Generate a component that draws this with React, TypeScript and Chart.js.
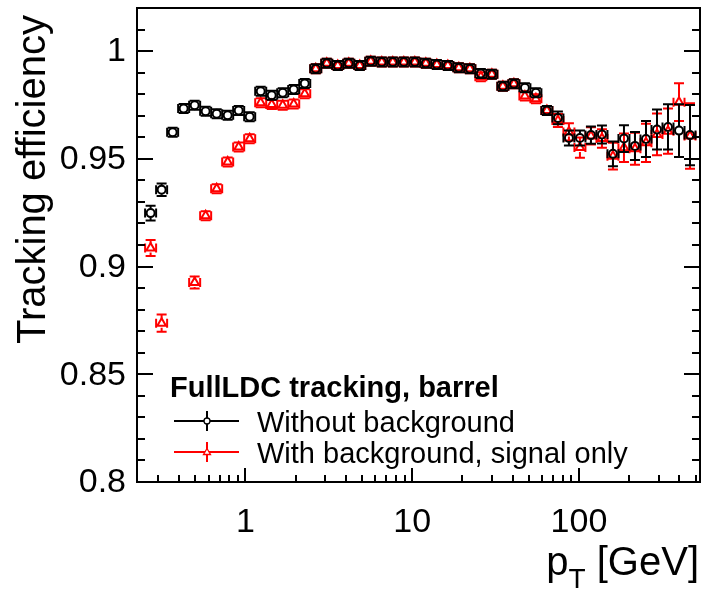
import React, { useEffect, useRef } from "react";
import { Chart, registerables } from "chart.js";

Chart.register(...registerables);

// pT bin centres [GeV] (50 log bins, 0.25 - 500 GeV)
const PT_BINS = [
  0.2697, 0.3140, 0.3656, 0.4256, 0.4955, 0.5768, 0.6716, 0.7818, 0.9102, 1.0596,
  1.2336, 1.4361, 1.6719, 1.9464, 2.2660, 2.6380, 3.0712, 3.5754, 4.1624, 4.8458,
  5.6415, 6.5677, 7.6460, 8.9014, 10.363, 12.064, 14.045, 16.351, 19.035, 22.160,
  25.799, 30.035, 34.966, 40.707, 47.390, 55.171, 64.229, 74.775, 87.052, 101.34,
  117.98, 137.35, 159.90, 186.16, 216.72, 252.30, 293.73, 341.95, 398.09, 463.45,
];
const BIN_RATIO = 1.16418; // ratio between successive bin edges

// Without background
const EFF_NO_BKG = [
  0.9248, 0.9357, 0.9623, 0.9733, 0.9749, 0.9721, 0.9709, 0.9702, 0.9724, 0.9695,
  0.9814, 0.9795, 0.9807, 0.9822, 0.9850, 0.9918, 0.9943, 0.9933, 0.9943, 0.9933,
  0.9953, 0.9949, 0.9949, 0.9949, 0.9949, 0.9943, 0.9938, 0.9933, 0.9923, 0.9918,
  0.9896, 0.9892, 0.9837, 0.9848, 0.9830, 0.9807, 0.9724, 0.9690, 0.9597, 0.9597,
  0.9610, 0.9613, 0.9523, 0.9594, 0.9560, 0.9592, 0.9636, 0.9648, 0.9631, 0.9610,
];
const ERR_NO_BKG = [
  0.0034, 0.0029, 0.0015, 0.0012, 0.0012, 0.0011, 0.0011, 0.0011, 0.0011, 0.0011,
  0.0011, 0.0010, 0.0010, 0.0010, 0.0010, 0.0008, 0.0008, 0.0008, 0.0008, 0.0008,
  0.0008, 0.0008, 0.0008, 0.0008, 0.0008, 0.0008, 0.0008, 0.0008, 0.0008, 0.0008,
  0.0009, 0.0010, 0.0012, 0.0013, 0.0015, 0.0015, 0.0020, 0.0030, 0.0035, 0.0035,
  0.0040, 0.0042, 0.0057, 0.0062, 0.0065, 0.0083, 0.0093, 0.0105, 0.0122, 0.0140,
];

// With background, signal only
const EFF_BKG = [
  0.9086, 0.8737, null, null, 0.8926, 0.9236, 0.9361, 0.9485, 0.9555, 0.9593,
  0.9760, 0.9752, 0.9749, 0.9755, 0.9802, 0.9918, 0.9943, 0.9933, 0.9943, 0.9933,
  0.9953, 0.9949, 0.9949, 0.9949, 0.9949, 0.9943, 0.9938, 0.9933, 0.9923, 0.9918,
  0.9881, 0.9892, 0.9837, 0.9848, 0.9791, 0.9779, 0.9724, 0.9678, 0.9625, 0.9552,
  0.9606, 0.9594, 0.9512, 0.9551, 0.9547, 0.9574, 0.9613, 0.9628, 0.9763, 0.9606,
];
const ERR_BKG = [
  0.0037, 0.0040, 0, 0, 0.0028, 0.0020, 0.0018, 0.0015, 0.0014, 0.0013,
  0.0012, 0.0012, 0.0012, 0.0012, 0.0012, 0.0009, 0.0009, 0.0009, 0.0009, 0.0009,
  0.0009, 0.0009, 0.0009, 0.0009, 0.0009, 0.0009, 0.0009, 0.0009, 0.0009, 0.0009,
  0.0012, 0.0012, 0.0012, 0.0012, 0.0016, 0.0017, 0.0020, 0.0030, 0.0040, 0.0047,
  0.0040, 0.0043, 0.0062, 0.0066, 0.0074, 0.0089, 0.0097, 0.0105, 0.0088, 0.0152,
];

const Y_TICKS = [0.8, 0.85, 0.9, 0.95, 1];
const Y_TICK_LABELS = ["0.8", "0.85", "0.9", "0.95", "1"];
const X_TICKS = [1, 10, 100];
const X_TICK_LABELS = ["1", "10", "100"];

const LEGEND_HEADER = "FullLDC tracking, barrel";
const LEGEND_LABELS = ["Without background", "With background, signal only"];
const Y_TITLE = "Tracking efficiency";

const X_MIN = 0.2235;
const X_MAX = 532;
const Y_MIN = 0.8;
const Y_MAX = 1.02;

const FONT = '"Liberation Sans", Arial, Helvetica, sans-serif';
const COLORS = ["#000000", "#ff0000"];

const errorBarPlugin = {
  id: "rootErrorBars",
  beforeDatasetDraw(chart: any, args: any) {
    const ds = chart.data.datasets[args.index];
    const xs = chart.scales.x;
    const ys = chart.scales.y;
    const ctx = chart.ctx;
    const r = 4.5;
    const cap = 5;
    const half = Math.sqrt(BIN_RATIO);
    ctx.save();
    ctx.strokeStyle = ds.borderColor;
    ctx.lineWidth = 2;
    ctx.beginPath();
    ds.data.forEach((p: any) => {
      const xc = xs.getPixelForValue(p.x);
      const yc = ys.getPixelForValue(p.y);
      const xl = xs.getPixelForValue(p.x / half);
      const xh = xs.getPixelForValue(p.x * half);
      const yt = ys.getPixelForValue(p.y + p.e);
      const yb = ys.getPixelForValue(p.y - p.e);
      const dT = Math.max(yc - yt, r);
      const dB = Math.max(yb - yc, r);
      // x error
      ctx.moveTo(xl, yc);
      ctx.lineTo(xc - r, yc);
      ctx.moveTo(xc + r, yc);
      ctx.lineTo(xh, yc);
      ctx.moveTo(xl, yc - cap + 0.5);
      ctx.lineTo(xl, yc + cap - 0.5);
      ctx.moveTo(xh, yc - cap + 0.5);
      ctx.lineTo(xh, yc + cap - 0.5);
      // y error
      if (dT > r) {
        ctx.moveTo(xc, yc - dT);
        ctx.lineTo(xc, yc - r);
      }
      if (dB > r) {
        ctx.moveTo(xc, yc + r);
        ctx.lineTo(xc, yc + dB);
      }
      ctx.moveTo(xc - cap, yc - dT);
      ctx.lineTo(xc + cap, yc - dT);
      ctx.moveTo(xc - cap, yc + dB);
      ctx.lineTo(xc + cap, yc + dB);
    });
    ctx.stroke();
    ctx.restore();
  },
};

const axesPlugin = {
  id: "rootAxes",
  afterDraw(chart: any) {
    const ctx = chart.ctx;
    const { left, right, top, bottom } = chart.chartArea;
    const xs = chart.scales.x;
    const ys = chart.scales.y;
    ctx.save();
    ctx.strokeStyle = "#000";
    ctx.fillStyle = "#000";
    ctx.lineWidth = 2;
    ctx.strokeRect(left, top, right - left, bottom - top);

    ctx.beginPath();
    // y ticks (left and right)
    for (let i = 0; i <= 22; i++) {
      const v = Y_MIN + i * 0.01;
      const y = Math.round(ys.getPixelForValue(v));
      const major = i % 5 === 0;
      const len = major ? 16 : 8;
      ctx.moveTo(left, y);
      ctx.lineTo(left + len, y);
      ctx.moveTo(right, y);
      ctx.lineTo(right - len, y);
    }
    // x ticks (bottom)
    const xMinor: number[] = [];
    [0.1, 1, 10, 100].forEach((d) => {
      for (let m = 2; m <= 9; m++) xMinor.push(m * d);
    });
    xMinor.forEach((v) => {
      if (v <= X_MIN || v >= X_MAX) return;
      const x = Math.round(xs.getPixelForValue(v));
      ctx.moveTo(x, bottom);
      ctx.lineTo(x, bottom - 7);
    });
    X_TICKS.forEach((v) => {
      const x = Math.round(xs.getPixelForValue(v));
      ctx.moveTo(x, bottom);
      ctx.lineTo(x, bottom - 14);
    });
    ctx.stroke();

    // tick labels
    ctx.font = `34px ${FONT}`;
    ctx.textAlign = "right";
    ctx.textBaseline = "middle";
    Y_TICKS.forEach((v, i) => {
      ctx.fillText(Y_TICK_LABELS[i], left - 11, ys.getPixelForValue(v) + 1);
    });
    ctx.textAlign = "center";
    ctx.textBaseline = "alphabetic";
    X_TICKS.forEach((v, i) => {
      ctx.fillText(X_TICK_LABELS[i], xs.getPixelForValue(v), bottom + 50);
    });

    // x title: p_T [GeV], right aligned
    ctx.textAlign = "left";
    ctx.font = `40px ${FONT}`;
    const rest = " [GeV]";
    const wRest = ctx.measureText(rest).width;
    const wp = ctx.measureText("p").width;
    ctx.font = `28px ${FONT}`;
    const wT = ctx.measureText("T").width;
    const xEnd = right - 1;
    const x0 = xEnd - wRest - wT - wp;
    ctx.font = `40px ${FONT}`;
    ctx.fillText("p", x0, 575);
    ctx.fillText(rest, x0 + wp + wT, 575);
    ctx.font = `28px ${FONT}`;
    ctx.fillText("T", x0 + wp, 588);

    // y title
    ctx.save();
    ctx.translate(45, top + 7);
    ctx.rotate(-Math.PI / 2);
    ctx.font = `40px ${FONT}`;
    ctx.textAlign = "right";
    ctx.textBaseline = "alphabetic";
    ctx.fillText(Y_TITLE, 0, 0);
    ctx.restore();

    // legend
    ctx.textAlign = "left";
    ctx.textBaseline = "alphabetic";
    ctx.font = `bold 29px ${FONT}`;
    ctx.fillText(LEGEND_HEADER, 170, 397);
    ctx.font = `29px ${FONT}`;
    const rows = [421, 452];
    LEGEND_LABELS.forEach((lab, i) => {
      const y = rows[i];
      ctx.fillStyle = "#000";
      ctx.fillText(lab, 257, y + 10.5);
      ctx.strokeStyle = COLORS[i];
      ctx.lineWidth = 2;
      ctx.beginPath();
      ctx.moveTo(174, y);
      ctx.lineTo(239, y);
      ctx.moveTo(207, y - 10);
      ctx.lineTo(207, y + 10);
      ctx.stroke();
      ctx.lineWidth = 1.3;
      ctx.fillStyle = "#fff";
      ctx.beginPath();
      if (i === 0) {
        ctx.arc(207, y, 3, 0, Math.PI * 2);
      } else {
        ctx.moveTo(207, y - 3.5);
        ctx.lineTo(210.5, y + 2.5);
        ctx.lineTo(203.5, y + 2.5);
        ctx.closePath();
      }
      ctx.fill();
      ctx.stroke();
      ctx.fillStyle = "#000";
    });
    ctx.restore();
  },
};

function makePoints(eff: (number | null)[], err: number[]) {
  const out: { x: number; y: number; e: number }[] = [];
  PT_BINS.forEach((x, i) => {
    const y = eff[i];
    if (y !== null && y !== undefined) out.push({ x, y, e: err[i] });
  });
  return out;
}

export default function App() {
  const ref = useRef<HTMLCanvasElement>(null);
  useEffect(() => {
    if (!ref.current) return;
    const chart = new Chart(ref.current, {
      type: "scatter",
      data: {
        datasets: [
          {
            label: LEGEND_LABELS[0],
            data: makePoints(EFF_NO_BKG, ERR_NO_BKG),
            borderColor: COLORS[0],
            backgroundColor: "rgba(0,0,0,0)",
            pointStyle: "circle",
            pointRadius: 4,
            borderWidth: 2,
            showLine: false,
          },
          {
            label: LEGEND_LABELS[1],
            data: makePoints(EFF_BKG, ERR_BKG),
            borderColor: COLORS[1],
            backgroundColor: "rgba(0,0,0,0)",
            pointStyle: "triangle",
            pointRadius: 5,
            borderWidth: 2,
            showLine: false,
          },
        ],
      },
      options: {
        responsive: false,
        maintainAspectRatio: false,
        animation: false,
        devicePixelRatio: 1,
        layout: { padding: { left: 137, top: 8, right: 3, bottom: 110 } },
        scales: {
          x: { type: "logarithmic", min: X_MIN, max: X_MAX, display: false },
          y: { type: "linear", min: Y_MIN, max: Y_MAX, display: false },
        },
        plugins: {
          legend: { display: false },
          tooltip: { enabled: false },
        },
        events: [],
      },
      plugins: [errorBarPlugin, axesPlugin],
    } as any);
    return () => chart.destroy();
  }, []);
  return (
    <div style={{ position: "absolute", left: 0, top: 0, width: 707, height: 592, background: "#fff" }}>
      <canvas ref={ref} width={707} height={592} style={{ width: 707, height: 592, display: "block" }} />
    </div>
  );
}
